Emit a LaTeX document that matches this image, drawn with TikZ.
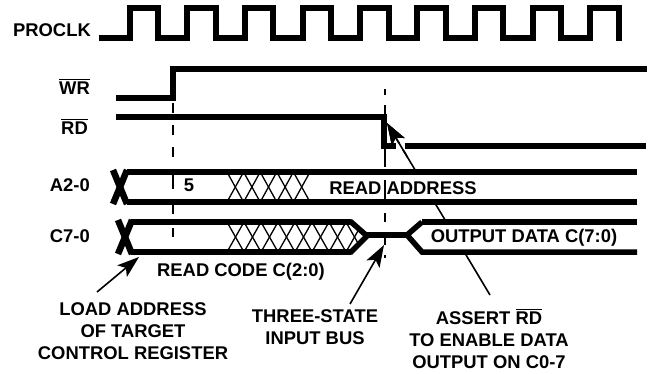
\documentclass[tikz,border=0pt]{standalone}
\usepackage{fontspec}
\setmainfont{Liberation Sans}
\usetikzlibrary{arrows.meta,calc}
\newcommand{\ovbar}[1]{\leavevmode\vbox{\hrule height 1.1pt \kern 1.4pt \hbox{#1}}}
\tikzset{
  sig/.style={line width=5.5pt,line join=miter,line cap=butt},
  xing/.style={line width=6.5pt,line cap=butt},
  hatch/.style={line width=1.3pt},
  guide/.style={line width=1.4pt},
  lbl/.style={font=\fontsize{18.4}{22}\selectfont\bfseries,inner sep=0pt,align=center},
  sglbl/.style={lbl,anchor=base east},
  pointer/.style={line width=1.6pt,-{Stealth[length=22pt,width=15pt,inset=5pt]}}
}
\begin{document}
\begin{tikzpicture}[x=1pt,y=-1pt]
\useasboundingbox (0,0) rectangle (652,373);
% free ends and tips of the pointers
\coordinate (tipA) at (139,257);
\coordinate (tailA) at (97,292);
\coordinate (tipB) at (384,245);
\coordinate (tailB) at (350,304);
\coordinate (tipC) at (387,123);
\coordinate (tailC) at (490,295);
% pointer C goes behind the bus labels
\draw[pointer] (tailC) -- (tipC);
% labels that mask the pointer
\node[lbl,fill=white,minimum height=26pt] (readaddr) at (403,188) {READ ADDRESS};
\node[lbl,fill=white,minimum height=28pt] (outdata) at (524,238) {OUTPUT DATA C(7:0)};
% hatching
\foreach \i in {0,...,4} {
  \draw[hatch] ({227+16.6*\i},172) -- ({227+16.6*(\i+1)},202);
  \draw[hatch] ({227+16.6*\i},202) -- ({227+16.6*(\i+1)},172);
}
\begin{scope}
\clip (227,222) -- (350,222) -- (367,237) -- (350,252) -- (227,252) -- cycle;
\foreach \i in {0,...,7} {
  \draw[hatch] ({227+17*\i},222) -- ({227+17*(\i+1)},252);
  \draw[hatch] ({227+17*\i},252) -- ({227+17*(\i+1)},222);
}
\end{scope}
% PROCLK
\draw[sig] (99,38) -- (130,38) -- (130,8) -- (158,8) -- (158,38) -- (187,38) -- (187,8) -- (216,8) -- (216,38)
  -- (245,38) -- (245,8) -- (273,8) -- (273,38) -- (303,38) -- (303,8) -- (331,8) -- (331,38)
  -- (360,38) -- (360,8) -- (389,8) -- (389,38) -- (417,38) -- (417,8) -- (446,8) -- (446,38)
  -- (475,38) -- (475,8) -- (503,8) -- (503,38) -- (533,38) -- (533,8) -- (561,8) -- (561,38)
  -- (590,38) -- (590,8) -- (619,8) -- (619,41);
% WR, RD
\draw[sig] (116,98) -- (173,98) -- (173,69) -- (647,69);
\draw[sig] (116,117) -- (384,117) -- (384,146) -- (646,146);
% white cut round the head of pointer C
\draw[white,line width=7pt] (396,146) -- (405,146);
\draw[pointer] ($(tipC)!0.2!(tailC)$) -- (tipC);
% A2-0
\draw[sig] (127,172) -- (637,172);
\draw[sig] (127,202) -- (637,202);
\draw[xing] (127,170) -- (113,204);
\draw[xing] (113,170) -- (127,204);
% C7-0
\draw[sig] (131,222) -- (351,222);
\draw[sig] (131,252) -- (351,252);
\draw[xing] (132,220) -- (118,254);
\draw[xing] (118,220) -- (132,254);
\draw[sig] (350,221) -- (367,236) -- (350,253);
\draw[sig] (365,235) -- (409,235);
\draw[sig] (422,222) -- (407,235) -- (422,252) -- (637,252);
\draw[sig] (422,222) -- (637,222);
% guides
\draw[guide,dash pattern=on 10pt off 12pt on 10pt off 12pt on 10pt off 12pt on 20pt off 10pt on 15pt off 14pt on 9pt off 12pt on 5pt]
  (173,103) -- (173,237);
\draw[guide,dash pattern=on 6pt off 10pt on 62pt off 13pt on 20pt off 13pt on 9pt off 15pt on 8pt off 10pt on 3pt]
  (385,89) -- (385,258);
% pointers
\draw[pointer] (tailA) -- (tipA);
\draw[pointer] (tailB) -- (tipB);
% signal labels
\node[sglbl] (proclk) at (91,36.5) {PROCLK};
\node[sglbl] (wr) at (90,94.5) {\ovbar{WR}};
\node[sglbl] (rd) at (88,134) {\ovbar{RD}};
\node[sglbl] (a20) at (90,191.5) {A2-0};
\node[sglbl] (c70) at (90,242.5) {C7-0};
\node[lbl] (five) at (189,185) {5};
\node[lbl] (readcode) at (241,272) {READ CODE C(2:0)};
\node[lbl] (loadaddr) at (133,331) {LOAD ADDRESS\\OF TARGET\\CONTROL REGISTER};
\node[lbl] (three) at (315,327) {THREE-STATE\\INPUT BUS};
\node[lbl] (assert) at (489,339) {ASSERT \ovbar{RD}\\TO ENABLE DATA\\OUTPUT ON C0-7};
\end{tikzpicture}
\end{document}
